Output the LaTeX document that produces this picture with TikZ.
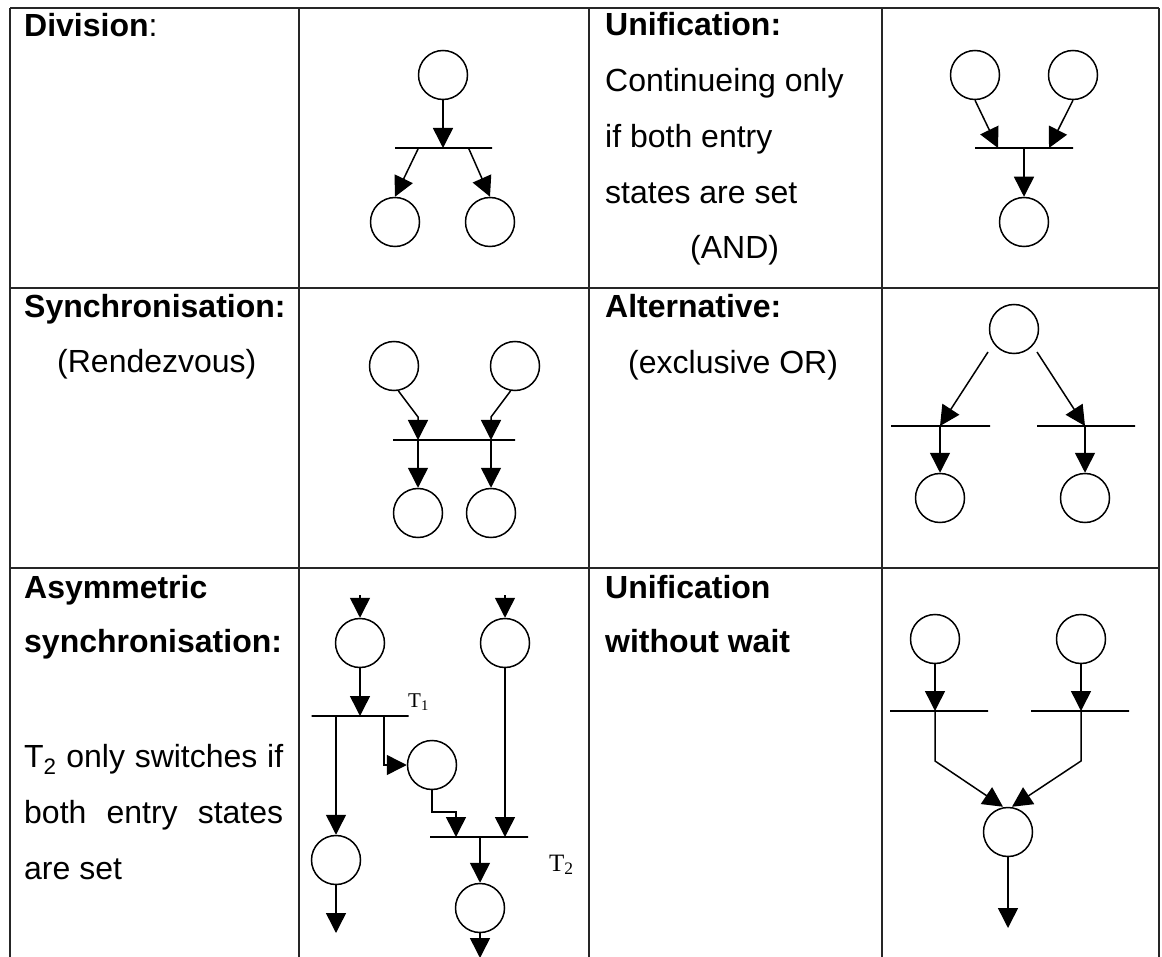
\documentclass[tikz,border=0pt]{standalone}
\usepackage{fontspec}
\setmainfont{Liberation Sans}
\newfontfamily\labelfont{Liberation Serif}
\usetikzlibrary{arrows.meta,calc}

\begin{document}
\begin{tikzpicture}[x=1pt,y=-1pt,
  place/.style={circle,draw,line width=1.5pt,minimum size=49pt,inner sep=0pt},
  tbar/.style={draw,line width=1.6pt,rectangle,minimum height=0pt,inner sep=0pt,minimum width=#1},
  arc/.style={line width=1.5pt,-{Triangle[width=20pt,length=20pt]}},
  rule/.style={line width=1.4pt,draw=black!85},
  txt/.style={anchor=base west,inner sep=0pt,font=\fontsize{32}{38}\selectfont},
  tlab/.style={anchor=base west,inner sep=0pt,font=\labelfont\fontsize{#1}{#1}\selectfont}]

\useasboundingbox (0,0) rectangle (1162,957);
\fill[white] (0,0) rectangle (1162,957);

% table grid (the last row runs past the lower edge)
\foreach \yy in {8,288,568} \draw[rule] (10,\yy) -- (1159,\yy);
\foreach \xx in {10,299,589,882,1159} \draw[rule] (\xx,8) -- (\xx,957);

% ---- row 1, left: division
\node[txt] (h1) at (24,37) {\textbf{Division}:};
\node[place] (d0) at (443,75) {};
\node[tbar=97pt] (d1) at (443.5,148) {};
\node[place] (d2) at (395,222) {};
\node[place] (d3) at (490,222) {};
\draw[arc] (d0.south) -- (d0|-d1);
\draw[arc] ($(d1.center)+(-25,0)$) -- (d2.north);
\draw[arc] ($(d1.center)+(25,0)$) -- (d3.north);

% ---- row 1, right: unification
\node[txt] (h2) at (605,36) {\textbf{Unification:}};
\node[txt] (h2a) at (605,92) {Continueing only};
\node[txt] (h2b) at (605,148) {if both entry};
\node[txt] (h2c) at (605,204) {states are set};
\node[txt] (h2d) at (690,259) {(AND)};
\node[place] (u1) at (975,75) {};
\node[place] (u2) at (1073,75) {};
\node[tbar=98pt] (ub) at (1024,148) {};
\node[place] (u3) at (1024,222) {};
\draw[arc] (u1.south) -- ($(ub.center)+(-26,0)$);
\draw[arc] (u2.south) -- ($(ub.center)+(25,0)$);
\draw[arc] (ub.center) -- (u3.north);

% ---- row 2, left: synchronisation
\node[txt] (h3) at (24,318) {\textbf{Synchronisation:}};
\node[txt] (h3a) at (57,373) {(Rendezvous)};
\node[place] (s1) at (394,366) {};
\node[place] (s2) at (515,366) {};
\node[tbar=122pt] (sb) at (454,440) {};
\node[place] (s3) at (418,513) {};
\node[place] (s4) at (491,513) {};
\draw[arc] (s1.-80) -- ($(s3|-sb)+(0,-23)$) -- (s3|-sb);
\draw[arc] (s2.-100) -- ($(s4|-sb)+(0,-23)$) -- (s4|-sb);
\draw[arc] (s3|-sb) -- (s3.north);
\draw[arc] (s4|-sb) -- (s4.north);

% ---- row 2, right: alternative
\node[txt] (h4) at (605,318) {\textbf{Alternative:}};
\node[txt] (h4a) at (628,374) {(exclusive OR)};
\node[place] (a0) at (1014,329) {};
\node[tbar=99pt] (ab1) at (940.5,426) {};
\node[tbar=98pt] (ab2) at (1086,426) {};
\node[place] (a1) at (940,498) {};
\node[place] (a2) at (1085,498) {};
\draw[arc] ($(a0)+(-26,23)$) -- (a1|-ab1);
\draw[arc] ($(a0)+(23,23)$) -- (a2|-ab2);
\draw[arc] (a1|-ab1) -- (a1.north);
\draw[arc] (a2|-ab2) -- (a2.north);

% ---- row 3, left: asymmetric synchronisation
\node[txt] (h5) at (24,598) {\textbf{Asymmetric}};
\node[txt] (h5a) at (24,652) {\textbf{synchronisation:}};
\node[txt] (h5b) at (24,767) {\makebox[259pt][s]{T\textsubscript{2} only switches if}};
\node[txt] (h5c) at (24,823) {\makebox[259pt][s]{both entry states}};
\node[txt] (h5d) at (24,879) {are set};
\node[place] (p1) at (360,643) {};
\node[place] (p2) at (505,643) {};
\coordinate (p1in) at (360,595);
\coordinate (p2in) at (505,595);
\draw[arc] (p1in) -- (p1.north);
\draw[arc] (p2in) -- (p2.north);
\node[tbar=97pt] (t1) at (360,716) {};
\node[tlab=21] (t1l) at (408,707) {T\textsubscript{1}};
\draw[arc] (p1.south) -- (p1|-t1);
\node[place] (p3) at (336,860) {};
\draw[arc] (p3|-t1) -- (p3.north);
\coordinate (p3out) at (336,933);
\draw[arc] (p3.south) -- (p3out);
\node[place] (p4) at (432,765) {};
\coordinate (k1) at (384,716);
\draw[arc] (k1) |- (p4.west);
\node[tbar=98pt] (t2) at (479,837) {};
\node[tlab=25] (t2l) at (549,871) {T\textsubscript{2}};
\coordinate (k2) at (456,837);
\draw[arc] (p4.south) |- ($(k2)+(0,-25)$) -- (k2);
\draw[arc] (p2.south) -- (p2|-t2);
\node[place] (p5) at (480,908) {};
\draw[arc] (p5|-t2) -- (p5.north);
\coordinate (p5out) at (480,958);
\draw[arc] (p5.south) -- (p5out);

% ---- row 3, right: unification without wait
\node[txt] (h6) at (605,598) {\textbf{Unification}};
\node[txt] (h6a) at (605,652) {\textbf{without wait}};
\node[place] (w1) at (935,639) {};
\node[place] (w2) at (1081,639) {};
\node[tbar=98pt] (wb1) at (939,711) {};
\node[tbar=98pt] (wb2) at (1080,711) {};
\node[place] (w3) at (1008,832) {};
\draw[arc] (w1.south) -- (w1|-wb1);
\draw[arc] (w2.south) -- (w2|-wb2);
\draw[arc] (w1|-wb1) -- ++(0,50) -- ($(w3.north)+(-5,0)$);
\draw[arc] (w2|-wb2) -- ++(0,50) -- ($(w3.north)+(4,0)$);
\coordinate (w3out) at (1008,928);
\draw[arc] (w3.south) -- (w3out);
\end{tikzpicture}
\end{document}
